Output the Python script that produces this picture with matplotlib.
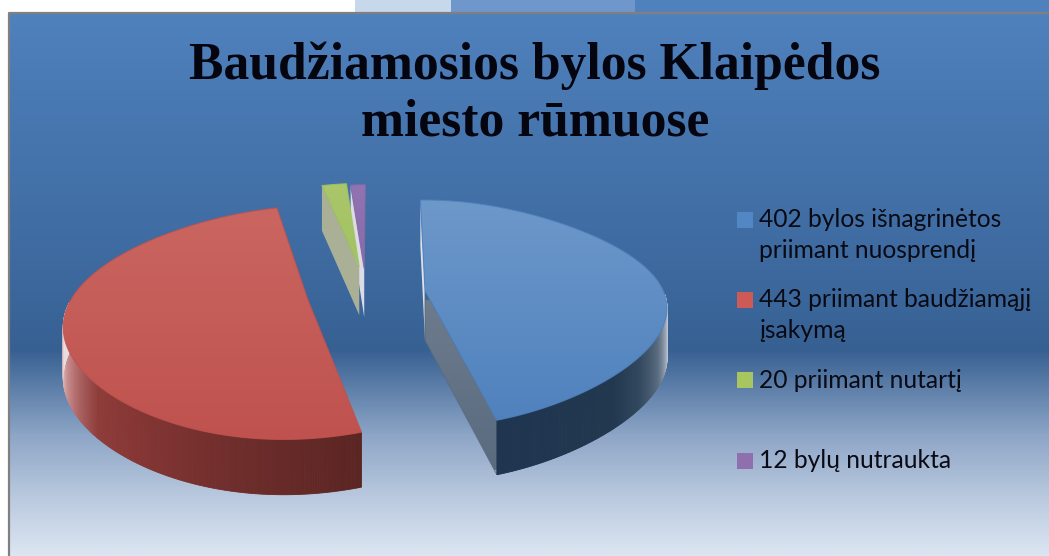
import numpy as np
import matplotlib
matplotlib.use('Agg')
import matplotlib.pyplot as plt
from matplotlib.collections import PolyCollection
from matplotlib.colors import LinearSegmentedColormap, to_rgb
from matplotlib.patches import Polygon, Rectangle

title_lines = ['Baudžiamosios bylos Klaipėdos', 'miesto rūmuose']
counts = [402, 443, 20, 12]
labels = ['402 bylos išnagrinėtos\npriimant nuosprendį',
          '443 priimant baudžiamąjį\nįsakymą',
          '20 priimant nutartį',
          '12 bylų nutraukta']
legend_colors = ['#5386c4', '#cd5a55', '#a8c660', '#8f6fae']

W, H = 1049, 556
START = -1.6

# pie geometry per slice: screen origin, x scale, ground offset, ground depth, edge bulge
blue_geo = (425, 993, 0.0, 4.96, 0.19)
red_geo = (400, 1048, -0.432, 4.89, 0.10)
green_geo = (400, 1048, -0.2018, 5.19, 0.15)
purple_geo = (400, 1048, -0.1765, 5.17, 0.15)


def project(phi, geo):
    x0, f, ex, ey, bulge = geo
    phi = np.radians(phi)
    x = np.sin(phi) * (1 + bulge * np.sin(phi) ** 2) + ex
    y = np.cos(phi) + ey
    return x0 + f * x / y, -250 + 2682 / y


def apex(geo):
    x0, f, ex, ey, bulge = geo
    return x0 + f * ex / ey, -250 + 2682 / ey


def depth(sy):
    return 45 + (sy - 183) * 0.04


def down(p):
    return p[0], p[1] + depth(p[1])


def interp_color(phi, stops):
    pos = [s[0] for s in stops]
    rgb = np.array([to_rgb(s[1]) for s in stops])
    return [np.interp(phi, pos, rgb[:, i]) for i in range(3)]


def gradient_fill(ax, points, colors, y0, y1, zorder):
    cmap = LinearSegmentedColormap.from_list('g', colors)
    patch = Polygon(points, closed=True, transform=ax.transData, fc='none', ec='none')
    ax.add_patch(patch)
    grad = np.linspace(0, 1, 256).reshape(-1, 1)
    im = ax.imshow(grad, cmap=cmap, extent=(0, W, y1, y0), aspect='auto', zorder=zorder,
                   interpolation='bilinear')
    im.set_clip_path(patch)
    # soft edge so the clipped image has no pale fringe
    ax.add_patch(Polygon(points, closed=True, fc='none', ec=colors[-1], lw=0.8, alpha=0.8,
                         zorder=zorder))


def wall(ax, phi0, phi1, geo, stops, zorder):
    phis = np.linspace(phi0, phi1, 200)
    quads, colors = [], []
    for a, b in zip(phis[:-1], phis[1:]):
        p, q = project(a, geo), project(b, geo)
        quads.append([p, q, down(q), down(p)])
        colors.append(interp_color((a + b) / 2, stops))
    ax.add_collection(PolyCollection(quads, facecolors=colors, edgecolors=colors,
                                     linewidths=0.6, zorder=zorder))


fig = plt.figure(figsize=(W / 100, H / 100), dpi=100)
ax = fig.add_axes([0, 0, 1, 1])

# strips above the frame
ax.add_patch(Rectangle((355, 0), 96, 13, fc='#c6d8ea', ec='none', zorder=1))
ax.add_patch(Rectangle((451, 0), 184, 13, fc='#6f97cc', ec='none', zorder=1))
ax.add_patch(Rectangle((635, 0), W - 635, 13, fc='#4f81bd', ec='none', zorder=1))

# background
bg = LinearSegmentedColormap.from_list('bg', [
    (0, '#4f81bd'), (0.55, '#3a6599'), (0.62, '#376092'),
    (0.78, '#8ea6c7'), (0.9, '#bccbe0'), (1, '#dce6f2')])
ax.imshow(np.linspace(0, 1, 512).reshape(-1, 1), cmap=bg, extent=(9, W, H, 14),
          aspect='auto', zorder=2)
ax.set_xlim(0, W)
ax.set_ylim(H, 0)
ax.axis('off')
ax.plot([8.5, 8.5, W], [H, 13, 13], color='#808080', lw=1.6, zorder=3)

# slice angles from the counts
sweeps = np.array(counts) / sum(counts) * 360
bounds = START + np.concatenate([[0], np.cumsum(sweeps)])

# purple
c = purple_geo
a, b = bounds[3], bounds[4]
tip = apex(c)
arc = np.array([project(p, c) for p in np.linspace(a, b, 20)])
ax.add_patch(Polygon([arc[0], tip, down(tip), down(arc[0])], fc='#dcdce6', ec='none', zorder=4))
gradient_fill(ax, [tip, *arc], ['#9274b2', '#8a6aa8'], 180, 275, 5)

# green
c = green_geo
a, b = bounds[2], bounds[3]
tip = apex(c)
arc = np.array([project(p, c) for p in np.linspace(a, b, 20)])
ax.add_patch(Polygon([arc[0], tip, down(tip), down(arc[0])], fc='#a9b096', ec='none', zorder=6))
gradient_fill(ax, [tip, *arc], ['#a9c76b', '#a3c261'], 180, 275, 7)

# red
c = red_geo
a, b = bounds[1], bounds[2]
arc = np.array([project(p, c) for p in np.linspace(a, b, 200)])
wall(ax, a, 268, c, [(163, '#5a2522'), (190, '#6e2d2b'), (215, '#853634'), (228, '#8f3c39'),
                     (240, '#b57070'), (252, '#d8a8a8'), (262, '#e8dce0'), (285, '#e8dce0')], 8)
gradient_fill(ax, [apex(c), *arc], ['#ca6661', '#bf524e'], 205, 440, 9)

# blue
c = blue_geo
a, b = bounds[0], bounds[1]
tip = apex(c)
arc = np.array([project(p, c) for p in np.linspace(a, b, 200)])
ax.add_patch(Polygon([arc[0], tip, down(tip), down(arc[0])], fc='#dfe0e8', ec='none', zorder=10))
gradient_fill(ax, [tip, arc[-1], down(arc[-1]), down(tip)], ['#6d7b8c', '#5a6b80'], 300, 470, 11)
wall(ax, 92, b, c, [(70, '#e0e4ea'), (96, '#e0e4ea'), (104, '#a8b4c0'), (113, '#5a6c80'),
                    (123, '#33495f'), (133, '#22384f'), (165, '#1f3550')], 12)
gradient_fill(ax, [tip, *arc], ['#6d98ca', '#4f81bd'], 200, 425, 13)

# title
plt.rcParams['font.family'] = ['Liberation Serif', 'DejaVu Serif']
ax.text(535, 79, title_lines[0], ha='center', va='baseline', fontsize=37.2, weight='bold',
        color='#050510', zorder=20)
ax.text(535, 135, title_lines[1], ha='center', va='baseline', fontsize=37.2, weight='bold',
        color='#050510', zorder=20)

# legend
baselines = [[227, 258], [307, 338], [388], [468]]
swatch_y = [212, 292, 372, 453]
for label, color, ys, sy in zip(labels, legend_colors, baselines, swatch_y):
    ax.add_patch(Rectangle((737, sy), 16, 16, fc=color, ec='none', zorder=20))
    for line, y in zip(label.split('\n'), ys):
        ax.text(759, y, line, ha='left', va='baseline', fontsize=17.7, family=['Lato', 'DejaVu Sans'],
                color='#0a0a14', zorder=20)

fig.savefig('out.png', dpi=100)
